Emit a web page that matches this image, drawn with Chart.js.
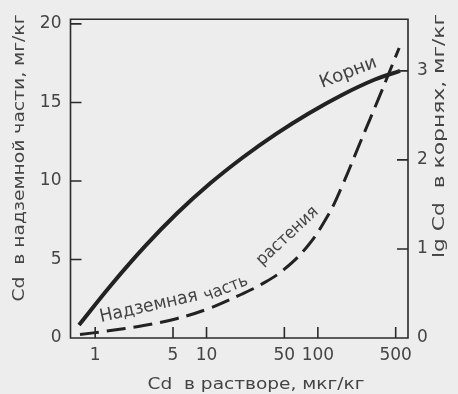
<!DOCTYPE html>
<html>
<head>
<meta charset="utf-8">
<script src="https://cdn.jsdelivr.net/npm/chart.js@4.4.1/dist/chart.umd.min.js"></script>
<style>
  html, body { margin: 0; padding: 0; background: #ededed; }
  #wrap { width: 458px; height: 394px; }
</style>
</head>
<body>
<div id="wrap"><canvas id="c" width="458" height="394"></canvas></div>
<script>
// Tick values for the three axes
const xTicks = [1, 5, 10, 50, 100, 500];
const leftTicks = [0, 5, 10, 15, 20];
const rightTicks = [0, 1, 2, 3];

// Корни: lg Cd in roots vs Cd in solution (µg/kg)
const rootConc = [0.715, 1.41, 2.78, 5.47, 10.8, 21.3, 41.9, 82.6, 163, 321, 547];
const rootLg   = [0.145, 0.603, 1.025, 1.403, 1.737, 2.03, 2.29, 2.522, 2.727, 2.90, 3.0];

// Надземная часть растения: Cd in shoots (mg/kg) vs Cd in solution
const shootConc = [0.73, 1.27, 2.72, 5.36, 10.6, 20.4, 30.8, 49.4, 81, 122, 160, 241, 363, 537];
const shootCd   = [0.22, 0.44, 0.79, 1.23, 1.89, 2.77, 3.40, 4.35, 5.86, 7.75, 9.46, 12.48, 15.5, 18.47];

const FONT = '"DejaVu Sans", "Liberation Sans", sans-serif';
const INK = '#222222';
const TEXT = '#444444';
const BG = '#ededed';

// Draws a text run rotated by `angle` degrees; optionally stretched to `width` px.
function drawText(ctx, text, x, y, angle, size, width, align, baseline) {
  ctx.save();
  ctx.translate(x, y);
  ctx.rotate(angle * Math.PI / 180);
  ctx.font = size + 'px ' + FONT;
  ctx.fillStyle = TEXT;
  ctx.textAlign = align || 'center';
  ctx.textBaseline = baseline || 'middle';
  if (width) {
    const w = ctx.measureText(text).width;
    ctx.scale(width / w, 1);
  }
  ctx.fillText(text, 0, 0);
  ctx.restore();
}

const decor = {
  id: 'decor',
  beforeDraw(chart) {
    const ctx = chart.ctx;
    ctx.save();
    ctx.fillStyle = BG;
    ctx.fillRect(0, 0, chart.width, chart.height);
    ctx.restore();
  },
  afterDraw(chart) {
    const ctx = chart.ctx;
    const a = chart.chartArea;
    const sx = chart.scales.x, sy = chart.scales.y, sy2 = chart.scales.y2;
    ctx.save();
    ctx.strokeStyle = '#2a2a2a';
    ctx.lineWidth = 1.6;
    // frame
    ctx.beginPath();
    ctx.moveTo(a.left, a.top); ctx.lineTo(a.right, a.top);
    ctx.lineTo(a.right, a.bottom); ctx.lineTo(a.left, a.bottom);
    ctx.closePath();
    ctx.stroke();
    // inward tick marks
    const TL = 11;
    ctx.beginPath();
    xTicks.forEach(v => {
      const px = sx.getPixelForValue(v);
      ctx.moveTo(px, a.bottom); ctx.lineTo(px, a.bottom - TL);
    });
    leftTicks.filter(v => v > 0).forEach(v => {
      const py = sy.getPixelForValue(v);
      ctx.moveTo(a.left, py); ctx.lineTo(a.left + TL, py);
    });
    rightTicks.filter(v => v > 0).forEach(v => {
      const py = sy2.getPixelForValue(v);
      ctx.moveTo(a.right, py); ctx.lineTo(a.right - TL, py);
    });
    ctx.stroke();
    ctx.restore();

    // axis titles
    drawText(ctx, 'Cd  в растворе, мкг/кг', 256, 385, 0, 16, 217);
    drawText(ctx, 'Cd  в надземной части, мг/кг', 20, 158, -90, 16, 287);
    drawText(ctx, 'lg Cd  в корнях, мг/кг', 440, 136, -90, 16, 244);

    // curve captions (baseline start points)
    drawText(ctx, 'Корни', 322, 88, -21, 18, 60, 'left', 'alphabetic');
    drawText(ctx, 'Надземная', 101, 322, -12.5, 18, 100, 'left', 'alphabetic');
    drawText(ctx, 'часть', 206, 301, -21, 17, 46, 'left', 'alphabetic');
    drawText(ctx, 'растения', 262, 266, -43, 17, 78, 'left', 'alphabetic');
  }
};

const tickFont = { family: FONT, size: 17 };

new Chart(document.getElementById('c'), {
  type: 'line',
  data: {
    datasets: [
      {
        label: 'Корни',
        data: rootConc.map((x, i) => ({ x, y: rootLg[i] })),
        yAxisID: 'y2',
        borderColor: INK,
        borderWidth: 4,
        pointRadius: 0,
        tension: 0.4,
        fill: false
      },
      {
        label: 'Надземная часть растения',
        data: shootConc.map((x, i) => ({ x, y: shootCd[i] })),
        yAxisID: 'y',
        borderColor: INK,
        borderWidth: 3,
        borderDash: [19, 8],
        pointRadius: 0,
        tension: 0.4,
        fill: false
      }
    ]
  },
  options: {
    responsive: false,
    animation: false,
    layout: { padding: { top: 16, left: 0, right: 0, bottom: 0 } },
    plugins: { legend: { display: false }, tooltip: { enabled: false } },
    scales: {
      x: {
        type: 'logarithmic',
        min: 0.628,
        max: 645,
        afterBuildTicks: s => { s.ticks = xTicks.map(v => ({ value: v })); },
        afterFit: s => { s.height = 56; },
        grid: { display: false, drawTicks: false },
        border: { display: false },
        ticks: { padding: 7, font: tickFont, color: TEXT, autoSkip: false, maxRotation: 0, callback: v => String(v) }
      },
      y: {
        position: 'left',
        min: 0,
        max: 20.3,
        afterBuildTicks: s => { s.ticks = leftTicks.map(v => ({ value: v })); },
        afterFit: s => { s.width = 70.5; },
        grid: { display: false, drawTicks: false },
        border: { display: false },
        ticks: { padding: 9, font: tickFont, color: TEXT, callback: v => String(v) }
      },
      y2: {
        position: 'right',
        min: 0,
        max: 3.58,
        afterBuildTicks: s => { s.ticks = rightTicks.map(v => ({ value: v })); },
        afterFit: s => { s.width = 50; },
        grid: { display: false, drawTicks: false },
        border: { display: false },
        ticks: { padding: 9, font: tickFont, color: TEXT, callback: v => String(v) }
      }
    }
  },
  plugins: [decor]
});
</script>
</body>
</html>
